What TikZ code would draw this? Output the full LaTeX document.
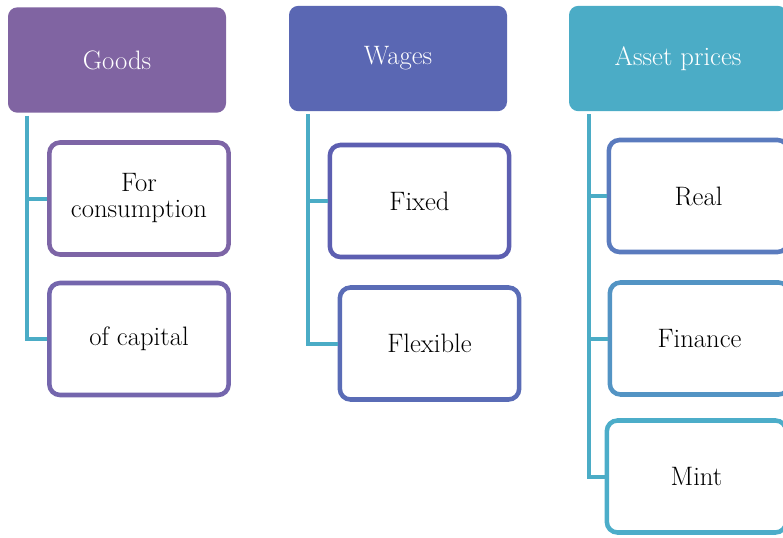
\documentclass[tikz,border=0pt]{standalone}
\usepackage{tikz}
\usetikzlibrary{positioning}
\definecolor{goodsc}{HTML}{8064A2}
\definecolor{wagesc}{HTML}{5A67B3}
\definecolor{assetc}{HTML}{4BACC6}
\definecolor{linkc}{HTML}{4BACC6}
\definecolor{consc}{HTML}{7D65A6}
\definecolor{capc}{HTML}{7466AD}
\definecolor{fixedc}{HTML}{5D5FB1}
\definecolor{flexc}{HTML}{5A6CB6}
\definecolor{realc}{HTML}{5A7BBE}
\definecolor{finc}{HTML}{5394C4}
\definecolor{mintc}{HTML}{4CADC9}

\begin{document}
\begin{tikzpicture}[x=0.75pt,y=-0.75pt,
  font=\fontsize{20}{19.5}\selectfont,
  head/.style={fill=#1,text=white,rounded corners=7pt,inner sep=0pt,
    minimum width=163.5pt,minimum height=79pt},
  leaf/.style={draw=#1,fill=white,text=black,line width=3.4pt,rounded corners=8pt,
    inner sep=0pt,align=center,minimum width=134.5pt,minimum height=84pt},
  link/.style={draw=linkc,line width=3pt}]
  \useasboundingbox (0,0) rectangle (783,537);

  % top row
  \node[head=goodsc] (goods) at (117,60) {Goods};
  \node[head=wagesc] (wages) at (398,58.5) {Wages};
  \node[head=assetc] (assets) at (678,58.5) {Asset prices};

  % goods
  \node[leaf=consc] (cons) at (139,198.5) {For\\consumption};
  \node[leaf=capc] (cap) at (139,339) {of capital};
  \draw[link] ([shift={(19,3)}]goods.south west) |- (cons.west);
  \draw[link] ([shift={(19,3)}]goods.south west) |- (cap.west);

  % wages
  \node[leaf=fixedc] (fixed) at (419.5,201) {Fixed};
  \node[leaf=flexc] (flex) at (429.5,343.5) {Flexible};
  \draw[link] ([shift={(19,3)}]wages.south west) |- (fixed.west);
  \draw[link] ([shift={(19,3)}]wages.south west) |- (flex.west);

  % asset prices
  \node[leaf=realc] (real) at (698.5,196) {Real};
  \node[leaf=finc] (fin) at (699.5,338.5) {Finance};
  \node[leaf=mintc] (mint) at (696.5,476.5) {Mint};
  \draw[link] ([shift={(20,3)}]assets.south west) |- (real.west);
  \draw[link] ([shift={(20,3)}]assets.south west) |- (fin.west);
  \draw[link] ([shift={(20,3)}]assets.south west) |- (mint.west);
\end{tikzpicture}
\end{document}
